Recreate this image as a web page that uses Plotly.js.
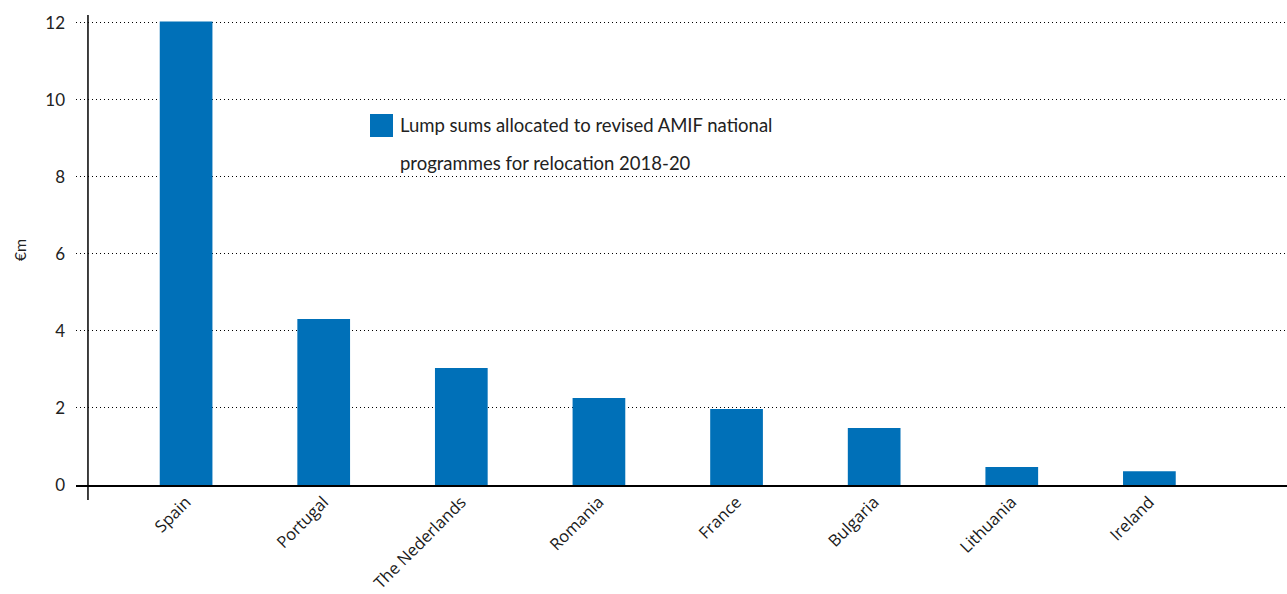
<!DOCTYPE html>
<html>
<head>
<meta charset="utf-8">
<script src="https://cdn.plot.ly/plotly-3.0.1.min.js"></script>
<style>
  html, body { margin: 0; padding: 0; background: #fff; }
  #chart { width: 1287px; height: 594px; }
</style>
</head>
<body>
<div id="chart"></div>
<script>
// Lump sums per Member State (€m)
const countries = ['Spain', 'Portugal', 'The Nederlands', 'Romania', 'France', 'Bulgaria', 'Lithuania', 'Ireland'];
const lumpSums = [12.03, 4.31, 3.04, 2.26, 1.97, 1.48, 0.47, 0.36];
const seriesName = 'Lump sums allocated to revised AMIF national programmes for relocation 2018-20';
const legendLines = ['Lump sums allocated to revised AMIF national', 'programmes for relocation 2018-20'];
const yTicks = [0, 2, 4, 6, 8, 10, 12];

const barColor = '#0070B8';
const font = 'Lato, "Open Sans", sans-serif';
const catFont = '"Open Sans", "Noto Sans", sans-serif';

const trace = {
  type: 'bar',
  x: countries,
  y: lumpSums,
  name: seriesName,
  marker: { color: barColor },
  showlegend: false,
  hoverinfo: 'x+y'
};

const layout = {
  width: 1287,
  height: 594,
  margin: { l: 76, r: 0, t: 15, b: 109 },
  paper_bgcolor: '#fff',
  plot_bgcolor: '#fff',
  font: { family: font, color: '#222' },
  bargap: 0.617,
  xaxis: {
    type: 'category',
    range: [-0.80, 8.0],
    tickangle: -45,
    tickfont: { size: 16.5, color: '#1a1a1a', family: catFont },
    ticklabelstandoff: -1,
    showline: true,
    linecolor: '#000',
    linewidth: 2,
    ticks: '',
    showgrid: false,
    zeroline: false
  },
  yaxis: {
    range: [0, 12.2],
    tickvals: yTicks,
    ticktext: yTicks.map(String),
    tickfont: { size: 17, color: '#222' },
    ticks: '',
    ticklabelstandoff: 10,
    showgrid: true,
    gridcolor: '#000',
    gridwidth: 1,
    griddash: '1px,3px',
    zeroline: false,
    showline: false,
    title: { text: '€m', font: { size: 16, color: '#222' }, standoff: 14 }
  },
  shapes: [
    {
      // vertical value axis line, extending a little past the plot
      type: 'line',
      xref: 'x', yref: 'paper',
      x0: -0.713, x1: -0.713,
      y0: -0.032, y1: 1.0,
      line: { color: '#000', width: 1.5 }
    },
    {
      // legend swatch
      type: 'rect',
      xref: 'paper', yref: 'paper',
      x0: (370 - 76) / 1211, x1: (393 - 76) / 1211,
      y0: (485 - 137) / 470, y1: (485 - 114) / 470,
      fillcolor: barColor,
      line: { width: 0 }
    }
  ],
  annotations: legendLines.map((line, i) => ({
    xref: 'paper', yref: 'paper',
    x: (398 - 76) / 1211,
    y: (485 - (125 + i * 38)) / 470,
    xanchor: 'left', yanchor: 'middle',
    text: line,
    showarrow: false,
    font: { size: 18.5, color: '#222', family: font }
  }))
};

Plotly.newPlot('chart', [trace], layout, { displayModeBar: false, staticPlot: true });
</script>
</body>
</html>
